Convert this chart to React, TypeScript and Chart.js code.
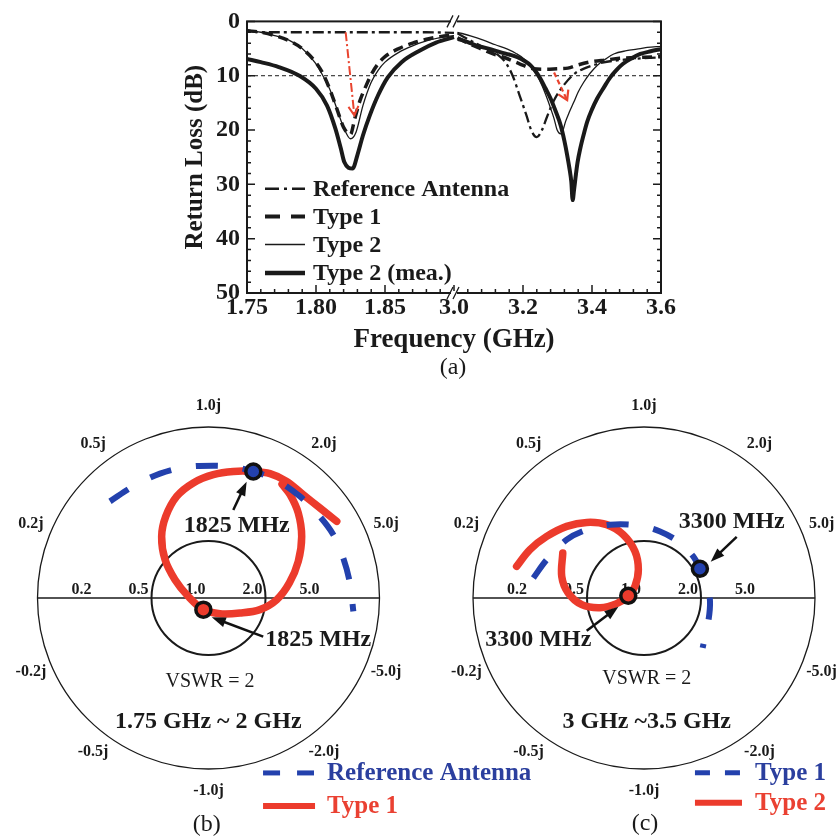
import React, { useEffect, useRef } from 'react';
import { Chart, registerables } from 'chart.js';

Chart.register(...registerables);

const FONT = '"Liberation Serif", "Times New Roman", Times, serif';
const INK = '#1a1a1a';
const RED = '#ec3b2c';
const BLUE = '#2341ad';
const ARROW_RED = '#e9442f';
const LEGEND_BLUE = '#2b3f9e';
const LEGEND_RED = '#ea4132';

// ================= Panel (a): return loss (broken frequency axis) =================
const BREAK_LOW = 1.9; // GHz, end of the low band segment
const BREAK_HIGH = 3.0; // GHz, start of the high band segment
const HIGH_COMPRESS = 4; // high band segment spans 4x the GHz of the low one

const xTickPositions = [1.75, 1.8, 1.85, 1.9, 1.95, 2.0, 2.05];
const xTickLabels = ['1.75', '1.80', '1.85', '3.0', '3.2', '3.4', '3.6'];
const thresholdDb = 10;

const seriesNamesA = ['Reference Antenna', 'Type 1', 'Type 2', 'Type 2 (mea.)'];

// Reference antenna
const refFreqLow = [1.75, 1.755, 1.76, 1.78, 1.8, 1.82, 1.84, 1.86, 1.88, 1.9];
const refRlLow = [1.6, 1.9, 2.0, 2.0, 2.0, 2.0, 2.0, 2.0, 2.0, 2.1];
const refFreqHigh = [3.01, 3.05, 3.1, 3.13, 3.15, 3.17, 3.19, 3.21, 3.225, 3.24, 3.255, 3.27, 3.29, 3.32, 3.35, 3.38, 3.43, 3.5, 3.6];
const refRlHigh = [2.2, 3.6, 5.2, 6.3, 7.6, 10.0, 13.6, 17.3, 20.2, 21.3, 20.0, 17.5, 14.5, 11.6, 9.6, 8.6, 7.6, 7.0, 6.6];

// Type 1 (simulated)
const t1FreqLow = [1.75, 1.76, 1.77, 1.78, 1.79, 1.8, 1.805, 1.81, 1.815, 1.82, 1.825, 1.828, 1.832, 1.836, 1.84, 1.845, 1.85, 1.86, 1.87, 1.88, 1.89, 1.9];
const t1RlLow = [1.7, 2.0, 2.6, 3.5, 5.0, 7.6, 9.6, 12.5, 16.0, 19.5, 20.8, 18.0, 14.5, 12.0, 9.8, 7.8, 6.5, 5.0, 4.0, 3.3, 2.8, 2.5];
const t1FreqHigh = [3.01, 3.04, 3.08, 3.11, 3.145, 3.19, 3.23, 3.27, 3.3, 3.33, 3.36, 3.4, 3.44, 3.48, 3.55, 3.6];
const t1RlHigh = [3.0, 4.0, 5.1, 5.9, 6.6, 7.8, 8.7, 8.8, 8.7, 8.6, 8.0, 7.4, 7.1, 6.8, 6.6, 6.5];

// Type 2 (simulated)
const t2FreqLow = [1.75, 1.76, 1.77, 1.78, 1.79, 1.8, 1.805, 1.81, 1.815, 1.82, 1.825, 1.829, 1.834, 1.84, 1.845, 1.85, 1.86, 1.87, 1.88, 1.89, 1.9];
const t2RlLow = [1.7, 2.0, 2.6, 3.4, 5.0, 7.8, 10.0, 12.5, 16.0, 19.5, 21.6, 20.4, 15.5, 11.2, 9.0, 7.5, 5.7, 4.5, 3.6, 3.0, 2.6];
const t2FreqHigh = [3.01, 3.05, 3.087, 3.12, 3.155, 3.18, 3.203, 3.22, 3.241, 3.255, 3.27, 3.28, 3.29, 3.299, 3.309, 3.316, 3.323, 3.335, 3.347, 3.36, 3.376, 3.395, 3.415, 3.44, 3.463, 3.5, 3.53, 3.56, 3.6];
const t2RlHigh = [2.0, 2.7, 3.5, 4.3, 5.1, 5.9, 6.9, 8.1, 10.0, 11.8, 14.2, 16.0, 17.9, 20.0, 20.7, 20.0, 18.5, 16.6, 14.9, 13.0, 11.2, 9.5, 8.1, 6.9, 6.0, 5.4, 5.1, 4.8, 4.6];

// Type 2 (measured)
const meaFreqLow = [1.75, 1.76, 1.773, 1.788, 1.8, 1.808, 1.814, 1.818, 1.8205, 1.8265, 1.83, 1.834, 1.839, 1.845, 1.852, 1.862, 1.875, 1.887, 1.9];
const meaRlLow = [6.9, 7.5, 8.4, 10.0, 12.4, 15.5, 19.7, 23.4, 25.9, 27.1, 24.6, 21.0, 17.3, 13.6, 10.3, 7.5, 5.4, 3.9, 2.9];
const meaFreqHigh = [3.011, 3.04, 3.068, 3.1, 3.136, 3.16, 3.184, 3.205, 3.222, 3.24, 3.251, 3.265, 3.28, 3.295, 3.309, 3.32, 3.328, 3.335, 3.34, 3.344, 3.348, 3.352, 3.358, 3.366, 3.376, 3.386, 3.4, 3.415, 3.435, 3.453, 3.47, 3.49, 3.515, 3.54, 3.57, 3.6];
const meaRlHigh = [3.2, 3.8, 4.5, 5.0, 5.7, 6.1, 6.6, 7.3, 8.1, 9.5, 10.6, 12.3, 14.2, 16.6, 19.1, 22.0, 24.6, 27.2, 29.5, 32.9, 31.0, 28.9, 26.0, 23.4, 20.8, 18.5, 16.2, 14.2, 12.1, 10.3, 9.0, 7.8, 6.8, 6.0, 5.5, 5.1];

// red annotation arrows (GHz, dB)
const arrowLowFrom = [1.8215, 2.0];
const arrowLowTo = [1.8278, 17.3];
const arrowHighFrom = [3.29, 9.4];
const arrowHighTo = [3.328, 14.5];

function axisX(f: number) {
  return f <= BREAK_LOW + 1e-9 ? f : BREAK_LOW + (f - BREAK_HIGH) / HIGH_COMPRESS;
}

function buildSeries(fl: number[], rl: number[], fh: number[], rh: number[]) {
  const pts: any[] = fl.map((f, i) => ({ x: axisX(f), y: rl[i] }));
  pts.push({ x: BREAK_LOW + 0.0004, y: null });
  fh.forEach((f, i) => pts.push({ x: axisX(f), y: rh[i] }));
  return pts;
}

function drawArrow(ctx: CanvasRenderingContext2D, x1: number, y1: number, x2: number, y2: number, o: any) {
  const ang = Math.atan2(y2 - y1, x2 - x1);
  ctx.save();
  ctx.strokeStyle = o.color;
  ctx.fillStyle = o.color;
  ctx.lineWidth = o.width;
  ctx.lineCap = 'butt';
  ctx.setLineDash(o.dash || []);
  const hl = o.headLen;
  const hw = o.headW;
  const sx = o.filled ? x2 - Math.cos(ang) * hl * 0.7 : x2;
  const sy = o.filled ? y2 - Math.sin(ang) * hl * 0.7 : y2;
  ctx.beginPath();
  ctx.moveTo(x1, y1);
  ctx.lineTo(sx, sy);
  ctx.stroke();
  ctx.setLineDash([]);
  const bx = x2 - Math.cos(ang) * hl;
  const by = y2 - Math.sin(ang) * hl;
  const px = (-Math.sin(ang) * hw) / 2;
  const py = (Math.cos(ang) * hw) / 2;
  ctx.beginPath();
  ctx.moveTo(bx + px, by + py);
  ctx.lineTo(x2, y2);
  ctx.lineTo(bx - px, by - py);
  if (o.filled) {
    ctx.closePath();
    ctx.fill();
  } else {
    ctx.lineWidth = o.headWidth || o.width;
    ctx.stroke();
  }
  ctx.restore();
}

const legendStylesA = [
  { width: 2.5, dash: [14, 5, 3, 5] },
  { width: 4, dash: [15, 11] },
  { width: 1.5, dash: [] },
  { width: 4.5, dash: [] },
];

const panelAPlugin = {
  id: 'panelAExtras',
  beforeDatasetsDraw(chart: any) {
    const { ctx, chartArea: ca, scales } = chart;
    const yT = scales.y.getPixelForValue(thresholdDb);
    ctx.save();
    ctx.strokeStyle = INK;
    ctx.lineWidth = 1;
    ctx.setLineDash([4, 3]);
    ctx.beginPath();
    ctx.moveTo(ca.left, yT);
    ctx.lineTo(ca.right, yT);
    ctx.stroke();
    ctx.restore();
  },
  afterDraw(chart: any) {
    const { ctx, chartArea: ca, scales } = chart;
    const x = scales.x;
    const y = scales.y;
    ctx.save();
    ctx.strokeStyle = INK;
    ctx.setLineDash([]);
    ctx.lineWidth = 2;
    ctx.strokeRect(ca.left, ca.top, ca.right - ca.left, ca.bottom - ca.top);
    ctx.lineWidth = 1.5;
    for (let k = 0; k <= 30; k++) {
      const px = x.getPixelForValue(1.75 + k * 0.01);
      const len = k % 5 === 0 ? 8 : 4;
      ctx.beginPath();
      ctx.moveTo(px, ca.bottom);
      ctx.lineTo(px, ca.bottom - len);
      ctx.stroke();
    }
    for (let v = 0; v <= 50; v += 2) {
      const py = y.getPixelForValue(v);
      const len = v % 10 === 0 ? 8 : 4;
      ctx.beginPath();
      ctx.moveTo(ca.left, py);
      ctx.lineTo(ca.left + len, py);
      ctx.moveTo(ca.right, py);
      ctx.lineTo(ca.right - len, py);
      ctx.stroke();
    }
    // axis break marks
    const bx = x.getPixelForValue(BREAK_LOW);
    for (const ey of [ca.top, ca.bottom]) {
      ctx.fillStyle = '#fff';
      ctx.fillRect(bx - 3, ey - 2, 6, 4);
      ctx.lineWidth = 1.3;
      ctx.beginPath();
      ctx.moveTo(bx - 7, ey + 6);
      ctx.lineTo(bx - 1, ey - 6);
      ctx.moveTo(bx - 1, ey + 6);
      ctx.lineTo(bx + 5, ey - 6);
      ctx.stroke();
    }
    // red arrows
    drawArrow(ctx, x.getPixelForValue(axisX(arrowLowFrom[0])), y.getPixelForValue(arrowLowFrom[1]),
      x.getPixelForValue(axisX(arrowLowTo[0])), y.getPixelForValue(arrowLowTo[1]),
      { color: ARROW_RED, width: 2, dash: [9, 3, 2, 3], headLen: 9, headW: 10, filled: false, headWidth: 2 });
    drawArrow(ctx, x.getPixelForValue(axisX(arrowHighFrom[0])), y.getPixelForValue(arrowHighFrom[1]),
      x.getPixelForValue(axisX(arrowHighTo[0])), y.getPixelForValue(arrowHighTo[1]),
      { color: ARROW_RED, width: 2.2, dash: [5, 3], headLen: 9, headW: 11, filled: false, headWidth: 2.2 });
    // legend
    const rows = [167.3, 195, 223, 251.7];
    ctx.font = `bold 24px ${FONT}`;
    ctx.textBaseline = 'middle';
    ctx.textAlign = 'left';
    seriesNamesA.forEach((name, i) => {
      const ly = ca.top + rows[i];
      const st = legendStylesA[i];
      ctx.strokeStyle = INK;
      ctx.lineWidth = st.width;
      ctx.setLineDash(st.dash);
      ctx.beginPath();
      ctx.moveTo(ca.left + 18, ly);
      ctx.lineTo(ca.left + 58, ly);
      ctx.stroke();
      ctx.setLineDash([]);
      ctx.fillStyle = INK;
      ctx.fillText(name, ca.left + 66, ly + 1);
    });
    // caption
    ctx.font = `24px ${FONT}`;
    ctx.textAlign = 'center';
    ctx.fillText('(a)', (ca.left + ca.right) / 2 - 1, 368);
    ctx.restore();
  },
};

function PanelA() {
  const ref = useRef<HTMLCanvasElement>(null);
  useEffect(() => {
    const tickFont = { family: FONT, size: 24, weight: 'bold' as const };
    const chart = new Chart(ref.current as HTMLCanvasElement, {
      type: 'line',
      data: {
        datasets: [
          { label: seriesNamesA[0], data: buildSeries(refFreqLow, refRlLow, refFreqHigh, refRlHigh), borderColor: INK, borderWidth: 2.3, borderDash: [11, 4, 3, 4], pointRadius: 0, cubicInterpolationMode: 'monotone', spanGaps: false } as any,
          { label: seriesNamesA[1], data: buildSeries(t1FreqLow, t1RlLow, t1FreqHigh, t1RlHigh), borderColor: INK, borderWidth: 3.5, borderDash: [10, 6], pointRadius: 0, cubicInterpolationMode: 'monotone', spanGaps: false } as any,
          { label: seriesNamesA[2], data: buildSeries(t2FreqLow, t2RlLow, t2FreqHigh, t2RlHigh), borderColor: INK, borderWidth: 1.3, pointRadius: 0, cubicInterpolationMode: 'monotone', spanGaps: false } as any,
          { label: seriesNamesA[3], data: buildSeries(meaFreqLow, meaRlLow, meaFreqHigh, meaRlHigh), borderColor: INK, borderWidth: 4, pointRadius: 0, cubicInterpolationMode: 'monotone', spanGaps: false } as any,
        ],
      },
      options: {
        responsive: false,
        animation: false,
        devicePixelRatio: 1,
        layout: { autoPadding: false, padding: { top: 21, right: 29, left: 0, bottom: 0 } },
        plugins: { legend: { display: false }, tooltip: { enabled: false } },
        scales: {
          x: {
            type: 'linear',
            min: 1.75,
            max: 2.05,
            afterBuildTicks: (s: any) => {
              s.ticks = xTickPositions.map((v) => ({ value: v }));
            },
            afterFit: (s: any) => {
              s.height = 87;
            },
            ticks: {
              autoSkip: false,
              maxRotation: 0,
              padding: 0,
              color: INK,
              font: tickFont,
              callback: (_v: any, i: number) => xTickLabels[i],
            },
            grid: { display: false, drawTicks: false },
            border: { display: false },
            title: { display: true, text: 'Frequency (GHz)', color: INK, font: { family: FONT, size: 27, weight: 'bold' }, padding: { top: 0, bottom: 24 } },
          },
          y: {
            type: 'linear',
            reverse: true,
            min: 0,
            max: 50,
            afterFit: (s: any) => {
              s.width = 97;
            },
            ticks: { stepSize: 10, padding: 7, color: INK, font: tickFont },
            grid: { display: false, drawTicks: false },
            border: { display: false },
            title: { display: true, text: 'Return Loss (dB)', color: INK, font: { family: FONT, size: 25, weight: 'bold' }, padding: { top: 31, bottom: 0 } },
          },
        },
      } as any,
      plugins: [panelAPlugin],
    });
    return () => chart.destroy();
  }, []);
  return <canvas ref={ref} width={540} height={380} style={{ position: 'absolute', left: 150, top: 0, width: 540, height: 380 }} />;
}

// ================= Panels (b) and (c): Smith charts (reflection coefficient) =================
const smithReactances = [0.2, 0.5, 1.0, 2.0, 5.0];
const smithResistances = [0.2, 0.5, 1.0, 2.0, 5.0];
const vswrValue = 2;

// (b) 1.75 GHz ~ 2 GHz
const refB_re = [-0.576, -0.44, -0.284, -0.127, 0.028, 0.145, 0.262, 0.399, 0.535, 0.633, 0.73, 0.788, 0.827, 0.847];
const refB_im = [0.565, 0.653, 0.727, 0.766, 0.774, 0.766, 0.74, 0.688, 0.594, 0.497, 0.37, 0.234, 0.088, -0.078];
const type1B_re = [0.75, 0.652, 0.554, 0.457, 0.36, 0.262, 0.145, 0.028, -0.089, -0.186, -0.25, -0.274, -0.254, -0.196, -0.118, -0.03, 0.067, 0.184, 0.301, 0.399, 0.473, 0.525, 0.545, 0.525, 0.477, 0.43];
const type1B_im = [0.448, 0.526, 0.604, 0.682, 0.727, 0.74, 0.74, 0.721, 0.673, 0.594, 0.477, 0.36, 0.224, 0.107, 0.009, -0.068, -0.092, -0.088, -0.068, -0.01, 0.088, 0.214, 0.36, 0.497, 0.604, 0.665];
const markerRefB = [0.262, 0.74];
const markerType1B = [-0.03, -0.068];

// (c) 3 GHz ~ 3.5 GHz
const type1C_re = [-0.647, -0.569, -0.452, -0.335, -0.199, -0.043, 0.094, 0.211, 0.288, 0.327, 0.367, 0.386, 0.376, 0.343];
const type1C_im = [0.117, 0.224, 0.341, 0.399, 0.429, 0.425, 0.389, 0.322, 0.243, 0.171, 0.078, -0.02, -0.137, -0.292];
const type2C_re = [-0.745, -0.667, -0.569, -0.452, -0.335, -0.218, -0.121, -0.053, -0.033, -0.053, -0.092, -0.16, -0.257, -0.364, -0.443, -0.481, -0.475];
const type2C_im = [0.185, 0.283, 0.36, 0.419, 0.442, 0.429, 0.37, 0.273, 0.166, 0.068, 0.013, -0.033, -0.057, -0.039, 0.029, 0.126, 0.263];
const markerType1C = [0.327, 0.171];
const markerType2C = [-0.092, 0.013];

const SMITH_BOX = { left: 0, top: 380, width: 838, height: 458 };
const SMITH_R = 171;

type SmithCfg = {
  key: string;
  center: [number, number];
  series: { re: number[]; im: number[]; color: string; width: number; dash: number[] }[];
  markers: { pt: number[]; fill: string }[];
  arrows: { from: number[]; to: number[] }[];
  texts: { text: string; at: number[]; font: string }[];
  legend: { label: string; color: string; textColor: string; dash: number[]; width: number; from: number; to: number; im: number; textAt: number }[];
  caption: { text: string; at: number[] };
};

const smithCfgB: SmithCfg = {
  key: 'b',
  center: [208.5, 598],
  series: [
    { re: refB_re, im: refB_im, color: BLUE, width: 6, dash: [22, 25] },
    { re: type1B_re, im: type1B_im, color: RED, width: 7.5, dash: [] },
  ],
  markers: [
    { pt: markerRefB, fill: BLUE },
    { pt: markerType1B, fill: RED },
  ],
  arrows: [
    { from: [0.145, 0.515], to: [0.223, 0.68] },
    { from: [0.32, -0.226], to: [0.019, -0.113] },
  ],
  texts: [
    { text: '1825 MHz', at: [0.165, 0.423], font: `bold 24px ${FONT}` },
    { text: '1825 MHz', at: [0.642, -0.246], font: `bold 24px ${FONT}` },
    { text: 'VSWR = 2', at: [0.009, -0.489], font: `20px ${FONT}` },
    { text: '1.75 GHz ~ 2 GHz', at: [-0.001, -0.723], font: `bold 24px ${FONT}` },
  ],
  legend: [
    { label: 'Reference Antenna', color: BLUE, textColor: LEGEND_BLUE, dash: [17, 17], width: 5, from: 0.319, to: 0.617, im: -1.023, textAt: 0.693 },
    { label: 'Type 1', color: RED, textColor: LEGEND_RED, dash: [], width: 6, from: 0.319, to: 0.623, im: -1.216, textAt: 0.693 },
  ],
  caption: { text: '(b)', at: [-0.01, -1.327] },
};

const smithCfgC: SmithCfg = {
  key: 'c',
  center: [644, 598],
  series: [
    { re: type1C_re, im: type1C_im, color: BLUE, width: 6, dash: [22, 25] },
    { re: type2C_re, im: type2C_im, color: RED, width: 7.5, dash: [] },
  ],
  markers: [
    { pt: markerType1C, fill: BLUE },
    { pt: markerType2C, fill: RED },
  ],
  arrows: [
    { from: [0.542, 0.358], to: [0.39, 0.212] },
    { from: [-0.335, -0.191], to: [-0.15, -0.051] },
  ],
  texts: [
    { text: '3300 MHz', at: [0.513, 0.446], font: `bold 24px ${FONT}` },
    { text: '3300 MHz', at: [-0.618, -0.246], font: `bold 24px ${FONT}` },
    { text: 'VSWR = 2', at: [0.016, -0.47], font: `20px ${FONT}` },
    { text: '3 GHz ~3.5 GHz', at: [0.016, -0.723], font: `bold 24px ${FONT}` },
  ],
  legend: [
    { label: 'Type 1', color: BLUE, textColor: LEGEND_BLUE, dash: [15, 15], width: 5, from: 0.298, to: 0.567, im: -1.022, textAt: 0.649 },
    { label: 'Type 2', color: RED, textColor: LEGEND_RED, dash: [], width: 6, from: 0.298, to: 0.573, im: -1.197, textAt: 0.649 },
  ],
  caption: { text: '(c)', at: [0.006, -1.318] },
};

function makeSmithPlugin(cfg: SmithCfg) {
  return {
    id: 'smith_' + cfg.key,
    beforeDatasetsDraw(chart: any) {
      const { ctx, scales } = chart;
      const X = (v: number) => scales.x.getPixelForValue(v);
      const Y = (v: number) => scales.y.getPixelForValue(v);
      const cx = X(0);
      const cy = Y(0);
      const R = X(1) - X(0);
      ctx.save();
      ctx.strokeStyle = INK;
      ctx.setLineDash([]);
      ctx.lineWidth = 1.3;
      ctx.beginPath();
      ctx.arc(cx, cy, R, 0, Math.PI * 2);
      ctx.stroke();
      ctx.lineWidth = 1.6;
      ctx.beginPath();
      ctx.moveTo(X(-1), cy);
      ctx.lineTo(X(1), cy);
      ctx.stroke();
      const g = (vswrValue - 1) / (vswrValue + 1);
      ctx.lineWidth = 2;
      ctx.beginPath();
      ctx.arc(cx, cy, X(g) - X(0), 0, Math.PI * 2);
      ctx.stroke();
      // resistance labels on the real axis
      ctx.fillStyle = INK;
      ctx.font = `bold 16px ${FONT}`;
      ctx.textAlign = 'right';
      ctx.textBaseline = 'alphabetic';
      smithResistances.forEach((r) => {
        const gr = (r - 1) / (r + 1);
        ctx.fillText(r.toFixed(1), X(gr) - 3, cy - 4);
      });
      // reactance labels around the rim
      ctx.textAlign = 'center';
      ctx.textBaseline = 'middle';
      const rad = 1.125;
      smithReactances.forEach((xr) => {
        [1, -1].forEach((s) => {
          const xv = xr * s;
          const re = (xv * xv - 1) / (xv * xv + 1);
          const im = (2 * xv) / (xv * xv + 1);
          ctx.fillText(`${s < 0 ? '-' : ''}${xr.toFixed(1)}j`, X(re * rad), Y(im * rad));
        });
      });
      ctx.restore();
    },
    afterDatasetsDraw(chart: any) {
      const { ctx, scales } = chart;
      const X = (v: number) => scales.x.getPixelForValue(v);
      const Y = (v: number) => scales.y.getPixelForValue(v);
      ctx.save();
      cfg.arrows.forEach((a) => {
        drawArrow(ctx, X(a.from[0]), Y(a.from[1]), X(a.to[0]), Y(a.to[1]), { color: '#111', width: 2.5, headLen: 14, headW: 10, filled: true });
      });
      ctx.fillStyle = INK;
      ctx.textAlign = 'center';
      ctx.textBaseline = 'middle';
      cfg.texts.forEach((t) => {
        ctx.font = t.font;
        ctx.fillText(t.text, X(t.at[0]), Y(t.at[1]));
      });
      cfg.legend.forEach((l) => {
        ctx.strokeStyle = l.color;
        ctx.lineWidth = l.width;
        ctx.lineCap = 'butt';
        ctx.setLineDash(l.dash);
        ctx.beginPath();
        ctx.moveTo(X(l.from), Y(l.im));
        ctx.lineTo(X(l.to), Y(l.im));
        ctx.stroke();
        ctx.setLineDash([]);
        ctx.font = `bold 25px ${FONT}`;
        ctx.textAlign = 'left';
        ctx.fillStyle = l.textColor;
        ctx.fillText(l.label, X(l.textAt), Y(l.im) + 1);
      });
      ctx.font = `24px ${FONT}`;
      ctx.textAlign = 'center';
      ctx.fillStyle = INK;
      ctx.fillText(cfg.caption.text, X(cfg.caption.at[0]), Y(cfg.caption.at[1]));
      ctx.restore();
    },
  };
}

function SmithPanel({ cfg }: { cfg: SmithCfg }) {
  const ref = useRef<HTMLCanvasElement>(null);
  useEffect(() => {
    const cxLocal = cfg.center[0] - SMITH_BOX.left;
    const cyLocal = cfg.center[1] - SMITH_BOX.top;
    const xmin = -cxLocal / SMITH_R;
    const xmax = (SMITH_BOX.width - cxLocal) / SMITH_R;
    const ymax = cyLocal / SMITH_R;
    const ymin = -(SMITH_BOX.height - cyLocal) / SMITH_R;
    const markerSets = cfg.markers.map((m) => ({
      data: [{ x: m.pt[0], y: m.pt[1] }],
      showLine: false,
      pointRadius: 7.5,
      pointBorderWidth: 3.5,
      pointBackgroundColor: m.fill,
      pointBorderColor: '#111',
    }));
    const lineSets = cfg.series.map((s) => ({
      data: s.re.map((r, i) => ({ x: r, y: s.im[i] })),
      showLine: true,
      pointRadius: 0,
      borderColor: s.color,
      borderWidth: s.width,
      borderDash: s.dash,
      borderCapStyle: s.dash.length ? 'butt' : 'round',
      borderJoinStyle: 'round',
      tension: 0.35,
      fill: false,
    }));
    const chart = new Chart(ref.current as HTMLCanvasElement, {
      type: 'scatter',
      data: { datasets: [...markerSets, ...lineSets] as any },
      options: {
        responsive: false,
        animation: false,
        devicePixelRatio: 1,
        layout: { autoPadding: false, padding: 0 },
        plugins: { legend: { display: false }, tooltip: { enabled: false } },
        scales: {
          x: { type: 'linear', display: false, min: xmin, max: xmax },
          y: { type: 'linear', display: false, min: ymin, max: ymax },
        },
      } as any,
      plugins: [makeSmithPlugin(cfg)],
    });
    return () => chart.destroy();
  }, [cfg]);
  return (
    <canvas
      ref={ref}
      width={SMITH_BOX.width}
      height={SMITH_BOX.height}
      style={{ position: 'absolute', left: SMITH_BOX.left, top: SMITH_BOX.top, width: SMITH_BOX.width, height: SMITH_BOX.height }}
    />
  );
}

export default function App() {
  return (
    <div style={{ position: 'absolute', left: 0, top: 0, width: 838, height: 838, background: '#fff', overflow: 'hidden' }}>
      <PanelA />
      <SmithPanel cfg={smithCfgB} />
      <SmithPanel cfg={smithCfgC} />
    </div>
  );
}
